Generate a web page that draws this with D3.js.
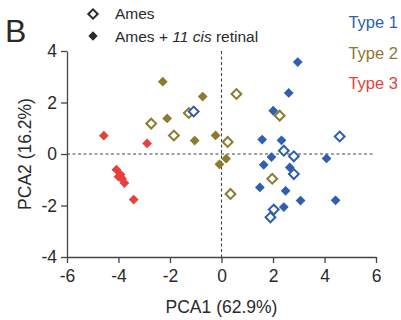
<!DOCTYPE html>
<html>
<head>
  <style>
    html, body { margin:0; padding:0; background:#fff; }
    text { font-family: "Liberation Sans", Arial, sans-serif; }
  </style>
  <script src="https://d3js.org/d3.v7.min.js"></script>
</head>
<body>
<svg id="chart"></svg>
<script>
var width = 401,
    height = 320;

// PCA scores, one list per type and condition
var type1Filled = [[2.96,3.57],[2.61,2.37],[2.01,1.68],[1.58,0.56],[2.33,0.53],[1.94,-0.12],[4.08,-0.17],
                   [1.64,-0.42],[2.65,-0.52],[1.49,-1.30],[2.49,-1.43],[3.07,-1.81],[4.43,-1.80],[2.42,-2.06]];
var type1Open   = [[-1.08,1.65],[4.59,0.68],[2.42,0.13],[2.81,-0.09],[2.81,-0.78],[2.03,-2.16],[1.90,-2.46]];
var type2Filled = [[-2.28,2.81],[-2.11,1.38],[-0.73,2.23],[-1.04,0.52],[-0.23,0.72],[0.18,-0.18],[-0.08,-0.40],[-3.96,-0.88]];
var type2Open   = [[-2.73,1.18],[-1.85,0.72],[-1.27,1.59],[0.58,2.33],[0.24,0.47],[2.26,1.49],[1.97,-0.96],[0.35,-1.55]];
var type3Filled = [[-4.57,0.71],[-2.89,0.41],[-4.08,-0.61],[-3.92,-0.80],[-4.00,-0.88],[-3.86,-0.96],[-3.77,-1.13],[-3.41,-1.77]];

var typeNames = ["Type 1", "Type 2", "Type 3"];
var typeColors = ["#2f5fae", "#8c7a2e", "#e8403d"];
var xTicks = [-6,-4,-2,0,2,4,6];
var yTicks = [-4,-2,0,2,4];

var svg = d3.select("#chart")
    .attr("width", width)
    .attr("height", height);

var x = d3.scaleLinear().domain([-6, 6]).range([67, 376]);
var y = d3.scaleLinear().domain([-4, 4]).range([257, 51]);
var fmt = function(d) { return String(d); };   // plain hyphen like the figure

// axes
var xAxis = svg.append("g")
    .attr("transform", "translate(0," + y(-4) + ")")
    .call(d3.axisBottom(x).tickValues(xTicks).tickFormat(fmt).tickSize(6).tickSizeOuter(0));
var yAxis = svg.append("g")
    .attr("transform", "translate(" + x(-6) + ",0)")
    .call(d3.axisLeft(y).tickValues(yTicks).tickFormat(fmt).tickSize(6).tickSizeOuter(0));

[xAxis, yAxis].forEach(function(a) {
  a.select(".domain").attr("stroke", "#444").attr("stroke-width", 1.3);
  a.selectAll(".tick line").attr("stroke", "#444").attr("stroke-width", 1.3);
  a.selectAll("text").attr("fill", "#2a2a2a").style("font-size", "17.5px")
    .style("font-family", "Liberation Sans, Arial, sans-serif");
});
xAxis.selectAll("text").attr("dy", "0.9em");
yAxis.selectAll("text").attr("dx", "-1px");

// zero lines
svg.append("line")
    .attr("x1", x(0)).attr("x2", x(0))
    .attr("y1", y(4)).attr("y2", y(-4))
    .attr("stroke", "#444").attr("stroke-width", 1.1).attr("stroke-dasharray", "3,2.5");
svg.append("line")
    .attr("x1", x(-6)).attr("x2", x(6) - 3)
    .attr("y1", y(0)).attr("y2", y(0))
    .attr("stroke", "#444").attr("stroke-width", 1.1).attr("stroke-dasharray", "3,2.5");

// points
var diamond = d3.symbol().type(d3.symbolSquare).size(48);
function drawSet(data, color, filled) {
  svg.append("g").selectAll("path")
    .data(data)
    .enter().append("path")
    .attr("d", diamond)
    .attr("transform", function(d) { return "translate(" + x(d[0]) + "," + y(d[1]) + ") rotate(45)"; })
    .attr("fill", filled ? color : "#fff")
    .attr("stroke", color)
    .attr("stroke-width", filled ? 0 : 2);
}
drawSet(type2Filled, typeColors[1], true);
drawSet(type2Open, typeColors[1], false);
drawSet(type1Filled, typeColors[0], true);
drawSet(type1Open, typeColors[0], false);
drawSet(type3Filled, typeColors[2], true);

// axis titles
svg.append("text")
    .attr("x", x(0)).attr("y", 313)
    .attr("text-anchor", "middle")
    .attr("fill", "#2a2a2a").style("font-size", "17.5px")
    .text("PCA1 (62.9%)");
svg.append("text")
    .attr("transform", "translate(31," + y(0) + ") rotate(-90)")
    .attr("text-anchor", "middle")
    .attr("fill", "#2a2a2a").style("font-size", "17.5px")
    .text("PCA2 (16.2%)");

// panel letter
svg.append("text")
    .attr("x", 5).attr("y", 42)
    .attr("fill", "#2a2a2a").style("font-size", "32px")
    .text("B");

// marker legend
var legendSym = d3.symbol().type(d3.symbolSquare).size(44);
svg.append("path").attr("d", legendSym)
    .attr("transform", "translate(93,14) rotate(45)")
    .attr("fill", "#fff").attr("stroke", "#2a2a2a").attr("stroke-width", 2);
svg.append("path").attr("d", legendSym)
    .attr("transform", "translate(93,36) rotate(45)")
    .attr("fill", "#2a2a2a");
svg.append("text")
    .attr("x", 115).attr("y", 19)
    .attr("fill", "#2a2a2a").style("font-size", "15.5px")
    .text("Ames");
var t2 = svg.append("text")
    .attr("x", 115).attr("y", 42)
    .attr("fill", "#2a2a2a").style("font-size", "15.5px");
t2.append("tspan").text("Ames + ");
t2.append("tspan").style("font-style", "italic").text("11 cis");
t2.append("tspan").text(" retinal");

// type legend
svg.selectAll(".typeLabel")
    .data(typeNames)
    .enter().append("text")
    .attr("class", "typeLabel")
    .attr("x", 398)
    .attr("y", function(d, i) { return 28 + i * 30.5; })
    .attr("text-anchor", "end")
    .attr("fill", function(d, i) { return typeColors[i]; })
    .style("font-size", "16.5px")
    .text(function(d) { return d; });
</script>
</body>
</html>
